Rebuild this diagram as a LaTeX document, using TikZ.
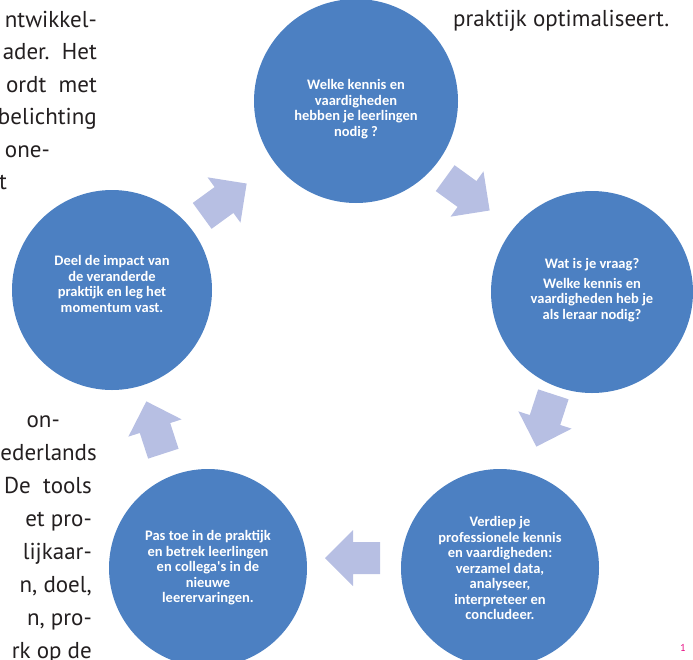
\documentclass[tikz,border=0pt]{standalone}
\usepackage{fontspec}
\setmainfont{PT Sans}
\newfontfamily\circfont{Carlito}
\definecolor{circblue}{RGB}{76,128,194}
\definecolor{arrowlav}{RGB}{183,191,227}
\definecolor{bodytext}{RGB}{35,31,32}
\definecolor{pagemag}{RGB}{229,0,125}
\newcommand\blockarrow[3]{\fill[arrowlav, shift={(#1,#2)}, rotate=#3] (-27,-16) -- (0,-16) -- (0,-28) -- (28,0) -- (0,28) -- (0,16) -- (-27,16) -- cycle;}
\begin{document}
\begin{tikzpicture}[x=1pt,y=-1pt,
 stepcircle/.style={circle, fill=circblue, inner sep=0pt},
 steptext/.style={text=white, inner sep=0pt,
   font=\circfont\bfseries\fontsize{14.5}{15.5}\selectfont, align=center},
 bodyline/.style={font=\fontsize{23}{29}\selectfont, text=bodytext, inner sep=0pt, anchor=base east},
 bodyleft/.style={font=\fontsize{23}{29}\selectfont, text=bodytext, inner sep=0pt, anchor=base west},
]
\useasboundingbox (0,0) rectangle (693,659);
% body text, upper left
\node[bodyline] (t1) at (97,27) {ntwikkel-};
\node[bodyline] (t2) at (97,59.5) {ader.\ \ Het};
\node[bodyline] (t3) at (97,92) {ordt\ \ met};
\node[bodyline] (t4) at (97,124.5) {belichting};
\node[bodyline] (t5) at (50,157) {one-};
\node[bodyline] (t6) at (7,189.5) {t};
% body text, upper right
\node[bodyleft] (t7) at (453,26) {praktijk optimaliseert.};
% body text, lower left
\node[bodyline] (b1) at (60,427) {on-};
\node[bodyline] (b2) at (97,460) {ederlands};
\node[bodyline] (b3) at (92,493) {De\ \ tools};
\node[bodyline] (b4) at (92,526) {et pro-};
\node[bodyline] (b5) at (92,559) {lijkaar-};
\node[bodyline] (b6) at (92,592) {n, doel,};
\node[bodyline] (b7) at (92,625) {n, pro-};
\node[bodyline] (b8) at (92,658) {rk op de};
% circles
\node[stepcircle, minimum size=204pt] (c1) at (356,101) {};
\node[stepcircle, minimum size=202pt] (c2) at (592,292) {};
\node[stepcircle, minimum size=198pt] (c3) at (500,568) {};
\node[stepcircle, minimum size=198pt] (c4) at (208,568) {};
\node[stepcircle, minimum size=200pt] (c5) at (112,290) {};
\node[steptext] (c1t) at ([yshift=-8pt]c1.center) {Welke kennis en\\vaardigheden\\hebben je leerlingen\\nodig ?};
\node[steptext] (c2t) at ([yshift=2pt]c2.center) {Wat is je vraag?\\[4pt]Welke kennis en\\vaardigheden heb je\\als leraar nodig?};
\node[steptext] (c3t) at (c3.center) {Verdiep je\\professionele kennis\\en vaardigheden:\\verzamel data,\\analyseer,\\interpreteer en\\concludeer.};
\node[steptext] (c4t) at (c4.center) {Pas toe in de praktijk\\en betrek leerlingen\\en collega's in de\\nieuwe\\leerervaringen.};
\node[steptext] (c5t) at ([yshift=6pt]c5.center) {Deel de impact van\\de veranderde\\praktijk en leg het\\momentum vast.};
% arrows
\blockarrow{467}{194}{-36}
\blockarrow{545}{420}{-108}
\blockarrow{353}{558}{180}
\blockarrow{155}{428}{108}
\blockarrow{224}{200}{36}
% page number
\node[font=\fontsize{10}{12}\selectfont, text=pagemag, inner sep=0pt] (pg) at (683,648) {1};
\end{tikzpicture}
\end{document}
